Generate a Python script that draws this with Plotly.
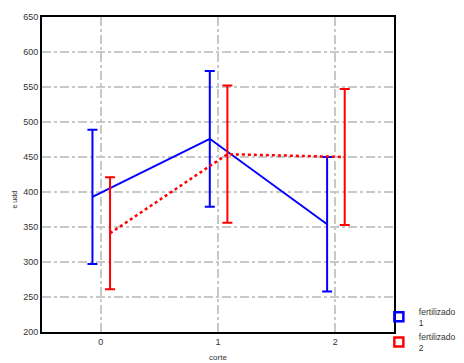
import plotly.graph_objects as go

cortes = [0, 1, 2]
f1_mean = [393, 476, 354]
f1_err = [96, 97, 96]
f2_mean = [341, 454, 450]
f2_err = [80, 98, 97]
series_names = ["fertilizado<br>1", "fertilizado<br>2"]
y_ticks = [200, 250, 300, 350, 400, 450, 500, 550, 600, 650]

off1, off2 = -0.07, 0.08
blue, red = "rgb(0,0,255)", "rgb(255,0,0)"

fig = go.Figure()
fig.add_trace(go.Scatter(
    x=[c + off1 for c in cortes], y=f1_mean, name=series_names[0],
    mode="lines", showlegend=False,
    line=dict(color=blue, width=2),
    error_y=dict(type="data", array=f1_err, visible=True,
                 color=blue, thickness=2, width=5),
))
fig.add_trace(go.Scatter(
    x=[c + off2 for c in cortes], y=f2_mean, name=series_names[1],
    mode="lines", showlegend=False,
    line=dict(color=red, width=2.5, dash="dot"),
    error_y=dict(type="data", array=f2_err, visible=True,
                 color=red, thickness=2, width=5),
))
# legend entries
fig.add_trace(go.Scatter(
    x=[None], y=[None], name=series_names[0], mode="markers",
    marker=dict(symbol="square-open", size=9, color=blue, line=dict(width=2.5, color=blue)),
))
fig.add_trace(go.Scatter(
    x=[None], y=[None], name=series_names[1], mode="markers",
    marker=dict(symbol="square-open", size=9, color=red, line=dict(width=2.5, color=red)),
))

fig.update_layout(
    width=456, height=355,
    margin=dict(l=34, r=70, t=9, b=31, autoexpand=False),
    plot_bgcolor="white", paper_bgcolor="white",
    font=dict(family="Liberation Sans, Arial, sans-serif", size=9, color="#333"),
    showlegend=True,
    legend=dict(x=0.957, y=0.104, xanchor="left", yanchor="top",
                font=dict(size=8.5, color="#333"), bgcolor="rgba(0,0,0,0)",
                tracegroupgap=0, itemwidth=30),
    annotations=[dict(text="e udd", xref="paper", yref="paper", x=-0.093, y=0.42,
                      textangle=-90, showarrow=False, font=dict(size=7, color="#333"))],
)
fig.update_xaxes(
    range=[-0.5, 2.5], tickvals=cortes, ticktext=[str(c) for c in cortes],
    showgrid=True, gridcolor="#c8c8c8", griddash="dashdot", gridwidth=1.5,
    showline=True, mirror=True, linecolor="black", linewidth=2,
    zeroline=False, ticks="",
    title=dict(text="corte", font=dict(size=8, color="#333"), standoff=9),
)
fig.update_yaxes(
    range=[200, 650], tickvals=y_ticks,
    showgrid=True, gridcolor="#c8c8c8", griddash="dashdot", gridwidth=1.5,
    showline=True, mirror=True, linecolor="black", linewidth=2,
    zeroline=False, ticks="",
)

fig.write_html("out.html")
